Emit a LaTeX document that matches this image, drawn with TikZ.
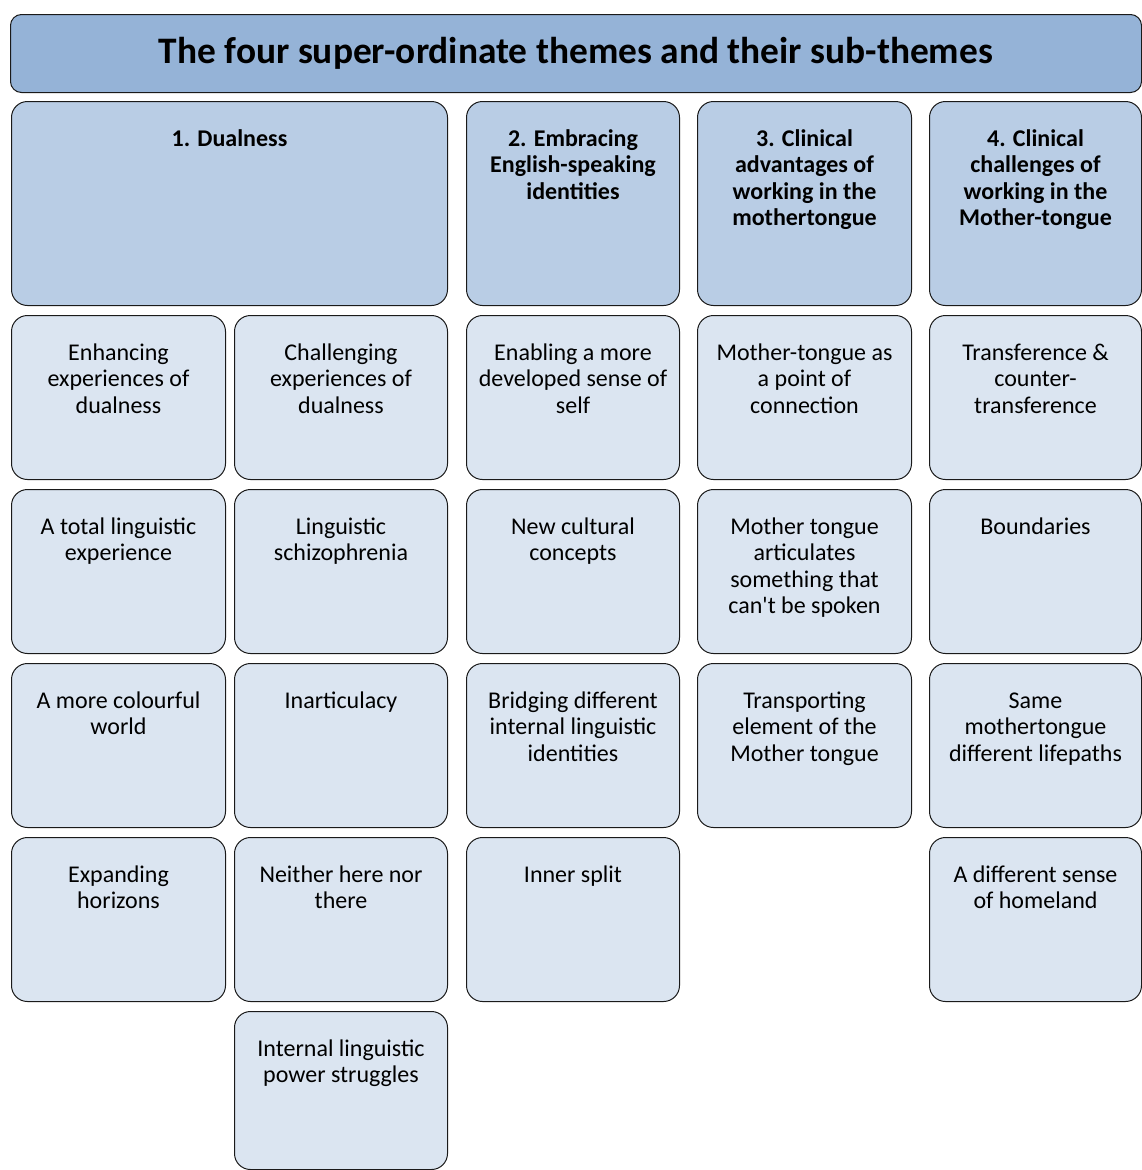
\documentclass[tikz,border=0pt]{standalone}
\usepackage{fontspec}
\setmainfont{Carlito}
\definecolor{titlefill}{HTML}{95B3D7}
\definecolor{themefill}{HTML}{B9CDE5}
\definecolor{subfill}{HTML}{DBE5F1}
\definecolor{edge}{HTML}{1A1A1A}

% \cellbox{name}{x1}{y1}{x2}{y2}{style}{text}
\newcommand{\cellbox}[7]{%
  \node[#6, anchor=north west, minimum width={(#4-#2)*1pt},
        minimum height={(#5-#3)*1pt}] (#1) at (#2,#3) {};
  \node[celltext, anchor=north] (#1-t) at ([yshift=-26.5pt]#1.north) {\strut #7};
}

\begin{document}
\begin{tikzpicture}[x=1pt,y=-1pt,
  frame/.style={draw=edge, line width=1pt, rounded corners=16pt, inner sep=0pt},
  titlebar/.style={frame, rounded corners=11pt, fill=titlefill},
  themebox/.style={frame, fill=themefill},
  subbox/.style={frame, fill=subfill},
  celltext/.style={align=center, inner sep=0pt, font=\fontsize{24}{26.5}\selectfont}]

\useasboundingbox (0,0) rectangle (1142,1170);

% heading bar
\node[titlebar, anchor=north west, minimum width=1131pt, minimum height=78pt]
  (title) at (10,14) {};
\node[font=\fontsize{37.4}{44}\selectfont\bfseries] (title-t) at (title.center)
  {The four super-ordinate themes and their sub-themes};

% x columns: 11-225, 234-447, 466-679, 697-911, 929-1141
% rows: 101-305, 315-479, 489-653, 663-827, 837-1001, 1011-1169

% super-ordinate themes
\tikzset{celltext/.append style={font=\fontsize{24}{26.5}\selectfont\bfseries}}
\cellbox{t1}{11}{101}{447}{305}{themebox}{1. Dualness}
\cellbox{t2}{466}{101}{679}{305}{themebox}{2. Embracing\\English-speaking\\identities}
\cellbox{t3}{697}{101}{911}{305}{themebox}{3. Clinical\\advantages of\\working in the\\mothertongue}
\cellbox{t4}{929}{101}{1141}{305}{themebox}{4. Clinical\\challenges of\\working in the\\Mother-tongue}
\tikzset{celltext/.append style={font=\fontsize{24}{26.5}\selectfont\mdseries}}

% row 2
\cellbox{a1}{11}{315}{225}{479}{subbox}{Enhancing\\experiences of\\dualness}
\cellbox{a2}{234}{315}{447}{479}{subbox}{Challenging\\experiences of\\dualness}
\cellbox{a3}{466}{315}{679}{479}{subbox}{Enabling a more\\developed sense of\\self}
\cellbox{a4}{697}{315}{911}{479}{subbox}{Mother-tongue as\\a point of\\connection}
\cellbox{a5}{929}{315}{1141}{479}{subbox}{Transference \&\\counter-\\transference}

% row 3
\cellbox{b1}{11}{489}{225}{653}{subbox}{A total linguistic\\experience}
\cellbox{b2}{234}{489}{447}{653}{subbox}{Linguistic\\schizophrenia}
\cellbox{b3}{466}{489}{679}{653}{subbox}{New cultural\\concepts}
\cellbox{b4}{697}{489}{911}{653}{subbox}{Mother tongue\\articulates\\something that\\can\textquotesingle t be spoken}
\cellbox{b5}{929}{489}{1141}{653}{subbox}{Boundaries}

% row 4
\cellbox{c1}{11}{663}{225}{827}{subbox}{A more colourful\\world}
\cellbox{c2}{234}{663}{447}{827}{subbox}{Inarticulacy}
\cellbox{c3}{466}{663}{679}{827}{subbox}{Bridging different\\internal linguistic\\identities}
\cellbox{c4}{697}{663}{911}{827}{subbox}{Transporting\\element of the\\Mother tongue}
\cellbox{c5}{929}{663}{1141}{827}{subbox}{Same\\mothertongue\\different lifepaths}

% row 5
\cellbox{d1}{11}{837}{225}{1001}{subbox}{Expanding\\horizons}
\cellbox{d2}{234}{837}{447}{1001}{subbox}{Neither here nor\\there}
\cellbox{d3}{466}{837}{679}{1001}{subbox}{Inner split}
\cellbox{d5}{929}{837}{1141}{1001}{subbox}{A different sense\\of homeland}

% row 6
\cellbox{e2}{234}{1011}{447}{1169}{subbox}{Internal linguistic\\power struggles}

\end{tikzpicture}
\end{document}
